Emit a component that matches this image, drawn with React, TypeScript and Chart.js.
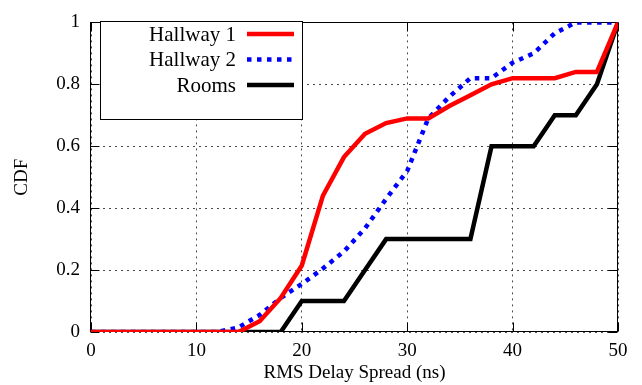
import React, { useEffect, useRef } from "react";
import { Chart, registerables } from "chart.js";

Chart.register(...registerables);

// RMS delay spread (ns)
const delaySpread = [0, 2, 4, 6, 8, 10, 12, 14, 16, 18, 20, 22, 24, 26, 28, 30, 32, 34, 36, 38, 40, 42, 44, 46, 48, 50];
const hallway1 = [0, 0, 0, 0, 0, 0, 0, 0, 0.035, 0.11, 0.215, 0.44, 0.565, 0.64, 0.675, 0.69, 0.69, 0.73, 0.765, 0.8, 0.82, 0.82, 0.82, 0.84, 0.84, 1];
const hallway2 = [0, 0, 0, 0, 0, 0, 0, 0.015, 0.055, 0.11, 0.155, 0.205, 0.26, 0.335, 0.43, 0.52, 0.69, 0.76, 0.82, 0.82, 0.87, 0.9, 0.965, 1, 1, 1];
const rooms = [0, 0, 0, 0, 0, 0, 0, 0, 0, 0, 0.1, 0.1, 0.1, 0.2, 0.3, 0.3, 0.3, 0.3, 0.3, 0.6, 0.6, 0.6, 0.7, 0.7, 0.8, 1];
const seriesNames = ["Hallway 1", "Hallway 2", "Rooms"];
const seriesColors = ["#ff0000", "#0000ff", "#000000"];
const seriesDashes: number[][] = [[], [4.5, 5.5], []];
const xTitle = "RMS Delay Spread (ns)";
const yTitle = "CDF";

const FONT = '"Liberation Serif", "Times New Roman", "DejaVu Serif", serif';

const frameTicksPlugin = {
  id: "frameTicks",
  beforeDatasetsDraw(chart: any) {
    const { ctx, chartArea, scales } = chart;
    const { left, right, top, bottom } = chartArea;
    const L = Math.round(left) - 0.5;
    const R = Math.round(right) - 0.5;
    const T = Math.round(top) + 0.5;
    const B = Math.round(bottom) - 0.5;
    ctx.save();
    ctx.strokeStyle = "#000";
    ctx.lineWidth = 1;
    ctx.setLineDash([]);
    ctx.beginPath();
    const tl = 9;
    scales.x.ticks.forEach((t: any) => {
      const px = Math.round(scales.x.getPixelForValue(t.value)) + 0.5;
      ctx.moveTo(px, B);
      ctx.lineTo(px, B - tl);
      ctx.moveTo(px, T);
      ctx.lineTo(px, T + tl);
    });
    scales.y.ticks.forEach((t: any) => {
      const py = Math.round(scales.y.getPixelForValue(t.value)) + 0.5;
      ctx.moveTo(L, py);
      ctx.lineTo(L + tl, py);
      ctx.moveTo(R, py);
      ctx.lineTo(R - tl, py);
    });
    ctx.stroke();
    ctx.strokeRect(L, T, R - L, B - T);
    ctx.restore();
  },
};

const legendPlugin = {
  id: "customLegend",
  afterDatasetsDraw(chart: any) {
    const { ctx } = chart;
    const bx = 100.5;
    const by = 21.5;
    const bw = 202;
    const bh = 98;
    ctx.save();
    ctx.fillStyle = "#fff";
    ctx.fillRect(bx, by, bw, bh);
    ctx.strokeStyle = "#000";
    ctx.lineWidth = 1;
    ctx.setLineDash([]);
    ctx.strokeRect(bx, by, bw, bh);
    ctx.font = `21px ${FONT}`;
    ctx.textAlign = "right";
    ctx.textBaseline = "middle";
    const rows = [34, 59.5, 85];
    seriesNames.forEach((name, i) => {
      const yy = rows[i];
      ctx.fillStyle = "#000";
      ctx.fillText(name, 236, yy + 1);
      ctx.beginPath();
      ctx.strokeStyle = seriesColors[i];
      ctx.lineWidth = 4.5;
      ctx.lineCap = "butt";
      ctx.setLineDash(seriesDashes[i]);
      ctx.moveTo(247, yy);
      ctx.lineTo(294, yy);
      ctx.stroke();
    });
    ctx.restore();
  },
};

export default function App() {
  const canvasRef = useRef<HTMLCanvasElement | null>(null);

  useEffect(() => {
    if (!canvasRef.current) return;
    const datasets = [hallway1, hallway2, rooms].map((vals, i) => ({
      label: seriesNames[i],
      data: delaySpread.map((x, j) => ({ x, y: vals[j] })),
      borderColor: seriesColors[i],
      backgroundColor: seriesColors[i],
      borderWidth: 4.5,
      borderDash: seriesDashes[i],
      borderCapStyle: "butt" as const,
      borderJoinStyle: "miter" as const,
      pointRadius: 0,
      fill: false,
      tension: 0,
    }));
    const tickFont = { family: FONT, size: 19 };
    const chart = new Chart(canvasRef.current, {
      type: "line",
      data: { datasets },
      plugins: [frameTicksPlugin, legendPlugin],
      options: {
        animation: false,
        responsive: false,
        devicePixelRatio: 1,
        layout: { padding: { top: 13, right: 24, left: 0, bottom: 0 } },
        plugins: { legend: { display: false }, tooltip: { enabled: false } },
        scales: {
          x: {
            type: "linear",
            min: 0,
            max: 50,
            ticks: { stepSize: 10, padding: 8, color: "#000", font: tickFont },
            grid: { color: "rgba(0,0,0,0.7)", lineWidth: 1, drawTicks: false, tickLength: 0 },
            border: { display: false, dash: [2, 4] },
            title: { display: true, text: xTitle, color: "#000", font: tickFont, padding: { top: 0, bottom: 1 } },
            afterFit: (s: any) => {
              s.height = 53;
            },
          },
          y: {
            type: "linear",
            min: 0,
            max: 1,
            ticks: {
              stepSize: 0.2,
              padding: 11,
              color: "#000",
              font: tickFont,
              callback: (v: any) => String(Number(Number(v).toFixed(1))),
            },
            grid: { color: "rgba(0,0,0,0.7)", lineWidth: 1, drawTicks: false, tickLength: 0 },
            border: { display: false, dash: [2, 4] },
            title: { display: true, text: yTitle, color: "#000", font: tickFont, padding: { top: 10.5, bottom: 10.5 } },
            afterFit: (s: any) => {
              s.width = 91;
            },
          },
        },
      },
    });
    return () => chart.destroy();
  }, []);

  return (
    <div style={{ position: "absolute", left: 0, top: 0, width: 642, height: 385, background: "#fff" }}>
      <canvas ref={canvasRef} width={642} height={385} style={{ display: "block" }} />
    </div>
  );
}
